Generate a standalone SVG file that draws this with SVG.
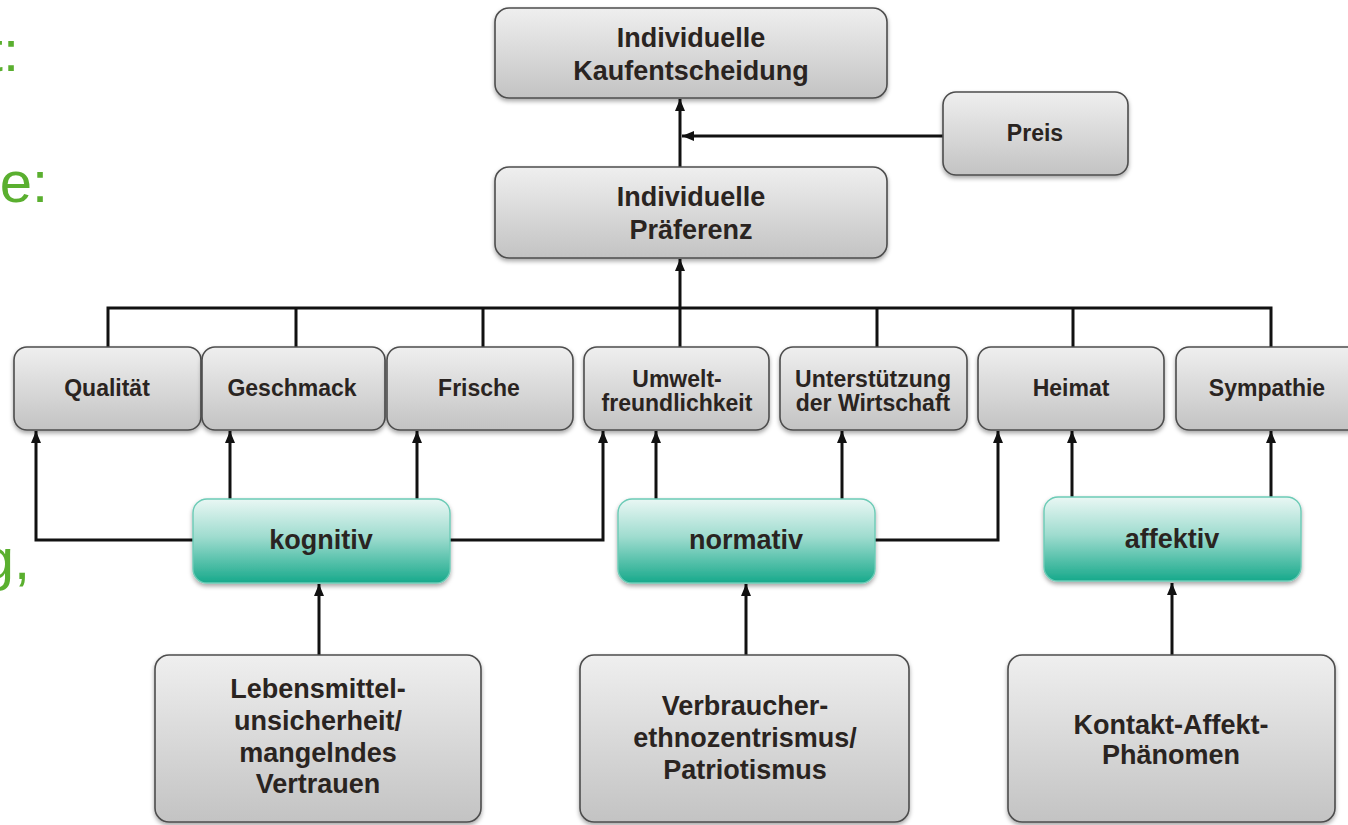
<svg xmlns="http://www.w3.org/2000/svg" width="1348" height="825" viewBox="0 0 1348 825">
<defs>
<linearGradient id="gGray" x1="0" y1="0" x2="0" y2="1">
<stop offset="0" stop-color="#efefef"/>
<stop offset="1" stop-color="#c3c3c3"/>
</linearGradient>
<linearGradient id="gTeal" x1="0" y1="0" x2="0" y2="1">
<stop offset="0" stop-color="#e9f7f4"/>
<stop offset="0.45" stop-color="#9fdccf"/>
<stop offset="1" stop-color="#17a98b"/>
</linearGradient>
<filter id="sh" x="-10%" y="-10%" width="120%" height="130%">
<feDropShadow dx="0" dy="2.5" stdDeviation="2" flood-color="#000" flood-opacity="0.35"/>
</filter>
<marker id="ah" viewBox="0 0 12 10" refX="12" refY="5" markerWidth="12" markerHeight="10" markerUnits="userSpaceOnUse" orient="auto">
<path d="M0,0 L12,5 L0,10 z" fill="#111"/>
</marker>
<style>
.box{fill:url(#gGray);stroke:#4d4d4d;stroke-width:1.6;filter:url(#sh)}
.teal{fill:url(#gTeal);stroke:#6ccbb6;stroke-width:1.4;filter:url(#sh)}
.t{font-family:"Liberation Sans",Arial,sans-serif;font-weight:bold;fill:#2a2421;text-anchor:middle}
.s23{font-size:23px}
.s27{font-size:27px}
.c{fill:none;stroke:#111;stroke-width:3}
.a{marker-end:url(#ah)}
.g{font-family:"Liberation Sans",Arial,sans-serif;font-size:58px;fill:#5aaf2f;text-anchor:end}
</style>
</defs>
<rect width="1348" height="825" fill="#ffffff"/>

<g id="side-text">
<text class="g" x="19" y="71">t:</text>
<text class="g" x="48" y="202">ke:</text>
<text class="g" x="30" y="579">g,</text>
</g>

<g id="connectors">
<path class="c a" d="M680,167 V99"/>
<path class="c a" d="M943,136 H682"/>
<path class="c a" d="M680,347 V259"/>
<path class="c" d="M108,347 V308 H1271 V347 M296,308 V347 M483,308 V347 M877,308 V347 M1073,308 V347"/>
<path class="c a" d="M193,540 H36 V431"/>
<path class="c a" d="M450,540 H603 V431"/>
<path class="c a" d="M230,499 V431"/>
<path class="c a" d="M417,499 V431"/>
<path class="c a" d="M656,499 V431"/>
<path class="c a" d="M842,499 V431"/>
<path class="c a" d="M875,540 H998 V431"/>
<path class="c a" d="M1072,497 V431"/>
<path class="c a" d="M1271,497 V431"/>
<path class="c a" d="M319,655 V584"/>
<path class="c a" d="M746,655 V584"/>
<path class="c a" d="M1172,655 V583"/>
</g>

<g id="n-kaufentscheidung">
<rect class="box" x="495" y="8" width="392" height="90" rx="14"/>
<text class="t s27" x="691" y="47">Individuelle</text>
<text class="t s27" x="691" y="80">Kaufentscheidung</text>
</g>
<g id="n-preis">
<rect class="box" x="943" y="92" width="185" height="83" rx="13"/>
<text class="t s23" x="1035" y="141">Preis</text>
</g>
<g id="n-praeferenz">
<rect class="box" x="495" y="167" width="392" height="91" rx="14"/>
<text class="t s27" x="691" y="206">Individuelle</text>
<text class="t s27" x="691" y="239">Präferenz</text>
</g>

<g id="n-qualitaet">
<rect class="box" x="14" y="347" width="187" height="83" rx="13"/>
<text class="t s23" x="107" y="396">Qualität</text>
</g>
<g id="n-geschmack">
<rect class="box" x="202" y="347" width="183" height="83" rx="13"/>
<text class="t s23" x="292" y="396">Geschmack</text>
</g>
<g id="n-frische">
<rect class="box" x="387" y="347" width="186" height="83" rx="13"/>
<text class="t s23" x="479" y="396">Frische</text>
</g>
<g id="n-umwelt">
<rect class="box" x="584" y="347" width="185" height="83" rx="13"/>
<text class="t s23" x="677" y="387">Umwelt-</text>
<text class="t s23" x="677" y="411">freundlichkeit</text>
</g>
<g id="n-unterstuetzung">
<rect class="box" x="780" y="347" width="187" height="83" rx="13"/>
<text class="t s23" x="873" y="387">Unterstützung</text>
<text class="t s23" x="873" y="411">der Wirtschaft</text>
</g>
<g id="n-heimat">
<rect class="box" x="978" y="347" width="186" height="83" rx="13"/>
<text class="t s23" x="1071" y="396">Heimat</text>
</g>
<g id="n-sympathie">
<rect class="box" x="1176" y="347" width="186" height="83" rx="13"/>
<text class="t s23" x="1267" y="396">Sympathie</text>
</g>

<g id="n-kognitiv">
<rect class="teal" x="193" y="499" width="257" height="84" rx="14"/>
<text class="t s27" x="321" y="549">kognitiv</text>
</g>
<g id="n-normativ">
<rect class="teal" x="618" y="499" width="257" height="84" rx="14"/>
<text class="t s27" x="746" y="549">normativ</text>
</g>
<g id="n-affektiv">
<rect class="teal" x="1044" y="497" width="257" height="84" rx="14"/>
<text class="t s27" x="1172" y="548">affektiv</text>
</g>

<g id="n-lebensmittel">
<rect class="box" x="155" y="655" width="326" height="167" rx="14"/>
<text class="t s27" x="318" y="698">Lebensmittel-</text>
<text class="t s27" x="318" y="730">unsicherheit/</text>
<text class="t s27" x="318" y="762">mangelndes</text>
<text class="t s27" x="318" y="793">Vertrauen</text>
</g>
<g id="n-verbraucher">
<rect class="box" x="580" y="655" width="329" height="167" rx="14"/>
<text class="t s27" x="745" y="715">Verbraucher-</text>
<text class="t s27" x="745" y="747">ethnozentrismus/</text>
<text class="t s27" x="745" y="779">Patriotismus</text>
</g>
<g id="n-kontakt">
<rect class="box" x="1008" y="655" width="327" height="167" rx="14"/>
<text class="t s27" x="1171" y="734">Kontakt-Affekt-</text>
<text class="t s27" x="1171" y="764">Phänomen</text>
</g>
</svg>
